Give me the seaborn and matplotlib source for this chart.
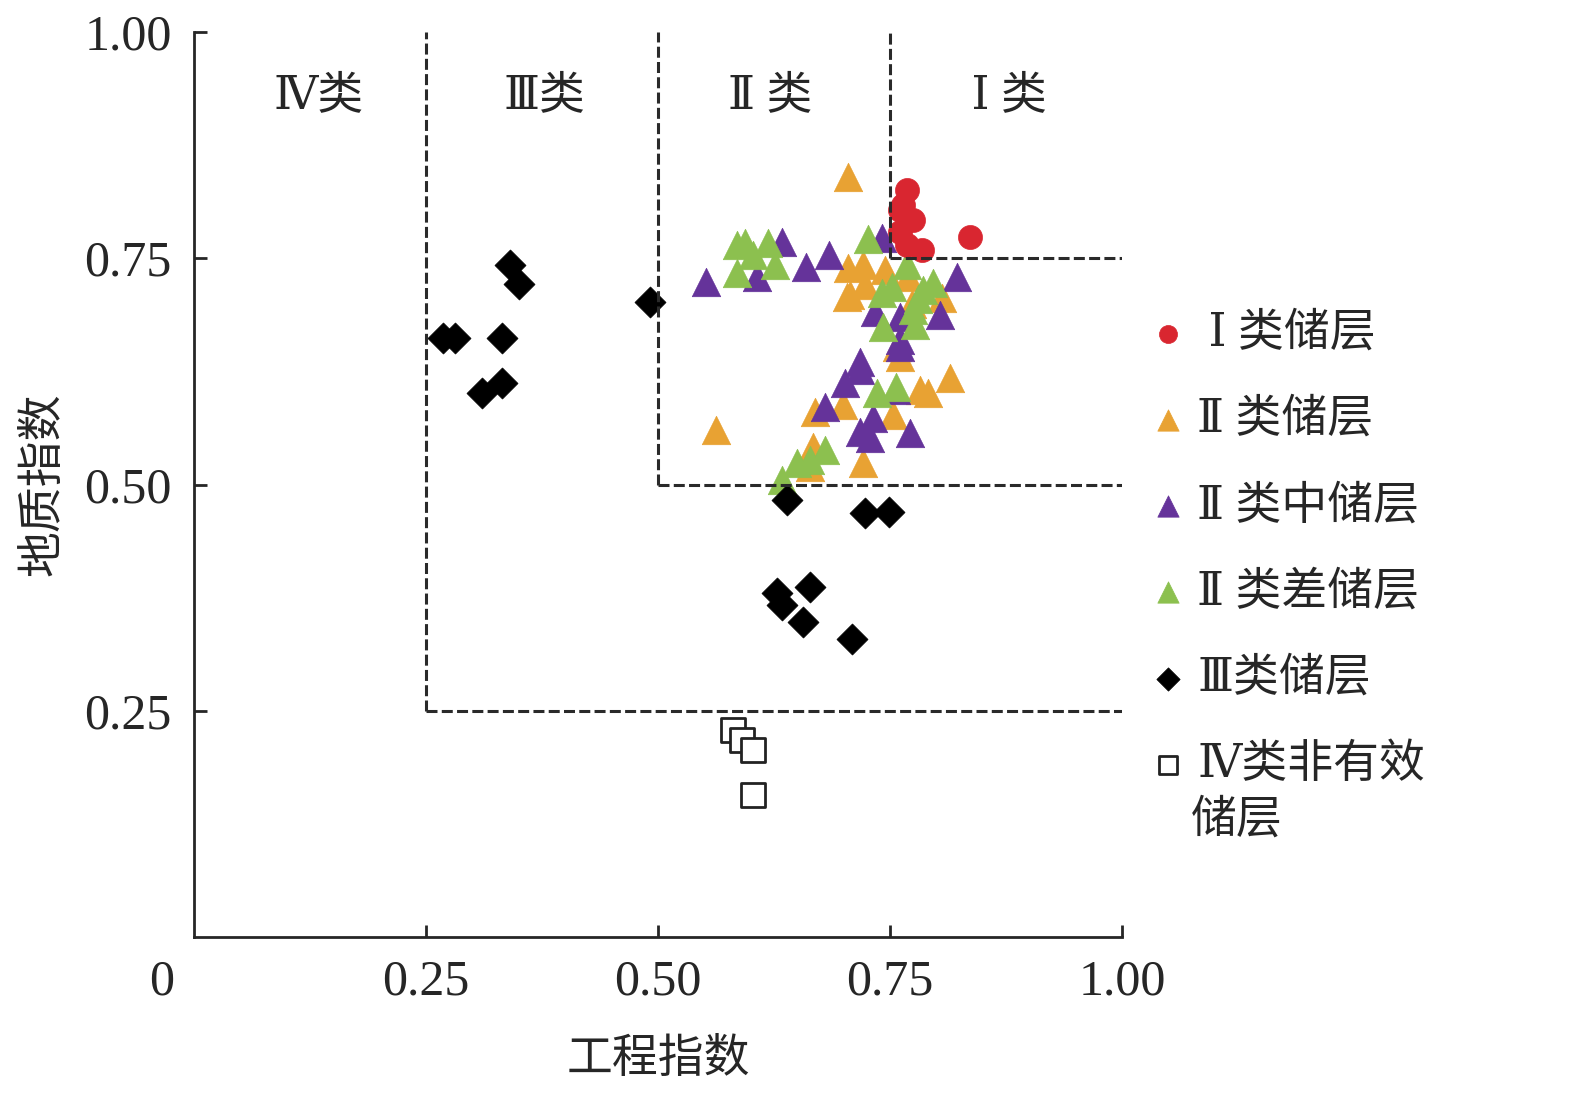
import numpy as np
import pandas as pd
import matplotlib
matplotlib.use("Agg")
import matplotlib.pyplot as plt
import seaborn as sns

# ===== 数据：工程指数 (x) / 地质指数 (y) =====
class1_x = [0.768, 0.761, 0.775, 0.761, 0.768, 0.784, 0.836, 0.764]
class1_y = [0.825, 0.803, 0.792, 0.779, 0.765, 0.759, 0.773, 0.809]

class2_x = [0.705, 0.563, 0.782, 0.791, 0.815, 0.699, 0.669, 0.753, 0.721, 0.667,
            0.664, 0.761, 0.705, 0.721, 0.745, 0.704, 0.723, 0.769, 0.806, 0.774,
            0.758, 0.707]
class2_y = [0.840, 0.560, 0.604, 0.601, 0.618, 0.588, 0.580, 0.577, 0.524, 0.541,
            0.519, 0.641, 0.739, 0.743, 0.737, 0.707, 0.720, 0.729, 0.706, 0.700,
            0.652, 0.709]

class2m_x = [0.552, 0.607, 0.634, 0.660, 0.684, 0.741, 0.822, 0.804, 0.734, 0.761,
             0.761, 0.718, 0.718, 0.702, 0.680, 0.732, 0.718, 0.728, 0.772, 0.757,
             0.761]
class2m_y = [0.724, 0.729, 0.768, 0.740, 0.754, 0.772, 0.729, 0.687, 0.691, 0.685,
             0.660, 0.635, 0.627, 0.612, 0.586, 0.573, 0.558, 0.551, 0.557, 0.604,
             0.652]

class2p_x = [0.585, 0.594, 0.602, 0.619, 0.626, 0.585, 0.726, 0.768, 0.741, 0.752,
             0.780, 0.796, 0.786, 0.775, 0.742, 0.777, 0.736, 0.757, 0.680, 0.650,
             0.664, 0.634]
class2p_y = [0.765, 0.767, 0.754, 0.767, 0.743, 0.734, 0.771, 0.743, 0.712, 0.718,
             0.705, 0.723, 0.715, 0.693, 0.674, 0.676, 0.601, 0.608, 0.538, 0.524,
             0.527, 0.505]

class3_x = [0.341, 0.350, 0.491, 0.268, 0.281, 0.332, 0.332, 0.310,
            0.639, 0.723, 0.749, 0.628, 0.634, 0.664, 0.656, 0.709]
class3_y = [0.743, 0.722, 0.702, 0.662, 0.662, 0.662, 0.612, 0.601,
            0.483, 0.468, 0.470, 0.380, 0.367, 0.387, 0.348, 0.329]

class4_x = [0.581, 0.591, 0.602, 0.602]
class4_y = [0.229, 0.218, 0.207, 0.157]

bounds = [0.25, 0.50, 0.75]
region_x = [0.134, 0.378, 0.621, 0.872]
region_labels = ["Ⅳ类", "Ⅲ类", "Ⅱ 类", " Ⅰ 类"]
ticks = [0.25, 0.50, 0.75, 1.00]
tick_labels = ["0.25", "0.50", "0.75", "1.00"]

series = [
    ("Ⅱ 类储层", class2_x, class2_y, "^", "#e8a233", 420),
    ("Ⅱ 类中储层", class2m_x, class2m_y, "^", "#65339a", 420),
    ("Ⅱ 类差储层", class2p_x, class2p_y, "^", "#8cc04f", 420),
    (" Ⅰ 类储层", class1_x, class1_y, "o", "#d92630", 300),
    ("Ⅲ类储层", class3_x, class3_y, "D", "black", 250),
    ("Ⅳ类非有效", class4_x, class4_y, "s", "white", 300),
]
legend_order = [" Ⅰ 类储层", "Ⅱ 类储层", "Ⅱ 类中储层", "Ⅱ 类差储层", "Ⅲ类储层", "Ⅳ类非有效"]
legend_tail = "储层"

sns.set_style("ticks")
plt.rcParams["font.family"] = ["Liberation Serif", "DejaVu Serif", "Noto Sans CJK SC"]
plt.rcParams["axes.linewidth"] = 2

fig = plt.figure(figsize=(15.75, 10.94), dpi=100)
ax = fig.add_axes([194 / 1575, 157 / 1094, 928 / 1575, 905 / 1094])

for name, xs, ys, marker, color, size in series:
    df = pd.DataFrame({"x": xs, "y": ys})
    if marker == "s":
        sns.scatterplot(data=df, x="x", y="y", marker=marker, s=size, color="white",
                        edgecolor="#222222", linewidth=2, ax=ax, label=name, zorder=3)
    else:
        sns.scatterplot(data=df, x="x", y="y", marker=marker, s=size, color=color,
                        edgecolor=color, linewidth=0.5, ax=ax, label=name, zorder=3)

# 分类边界虚线
dash = dict(color="#2a2a2a", lw=2.2, dashes=(3.6, 1.4), zorder=4)
for b in bounds:
    ax.plot([b, b], [b, 1.0], **dash)
    ax.plot([b, 1.0], [b, b], **dash)

for rx, rl in zip(region_x, region_labels):
    ax.text(rx, 0.928, rl, fontsize=33, ha="center", va="center")

ax.set_xlim(0, 1)
ax.set_ylim(0, 1)
ax.set_xticks(ticks)
ax.set_xticklabels(tick_labels)
ax.set_yticks(ticks)
ax.set_yticklabels(tick_labels)
ax.tick_params(direction="in", length=9, width=2, labelsize=36, pad=16)
ax.annotate("0", xy=(-0.035, 0), xycoords=("data", "axes fraction"),
            xytext=(0, -16), textcoords="offset points", ha="center", va="top",
            fontsize=36, annotation_clip=False)
sns.despine(ax=ax)
ax.set_xlabel("工程指数", fontsize=33, labelpad=24)
ax.set_ylabel("地质指数", fontsize=33, labelpad=14)

handles, labels = ax.get_legend_handles_labels()
lookup = dict(zip(labels, handles))
leg = ax.legend([lookup[l] for l in legend_order], legend_order,
                loc="upper left", bbox_to_anchor=(0.98, 0.735), frameon=False,
                fontsize=33, labelspacing=0.95, handletextpad=0.15, markerscale=0.75,
                handlelength=1.0)

# 最后一项的第二行“储层”，与首行左对齐
fig.canvas.draw()
last = leg.get_texts()[-1].get_window_extent()
x0, y0 = fig.transFigure.inverted().transform((last.x0, last.y0))
fig.text(x0 - 0.004, y0 - 0.012, legend_tail, fontsize=33, ha="left", va="top")

plt.savefig("out.png", dpi=100)
